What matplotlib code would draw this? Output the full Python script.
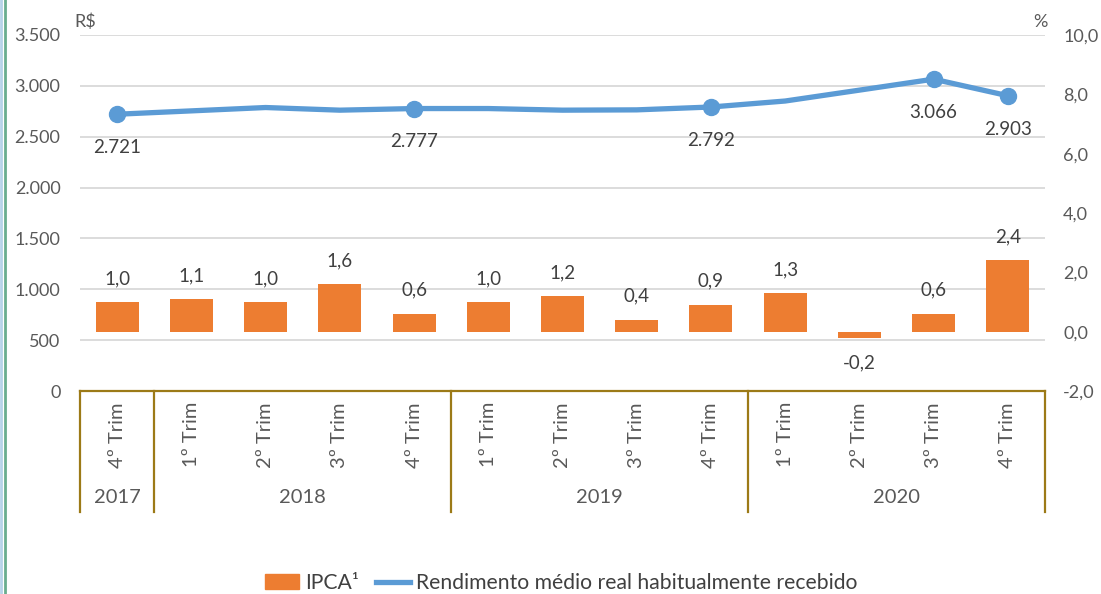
import numpy as np
import matplotlib.pyplot as plt
from matplotlib.lines import Line2D
from matplotlib.patches import Patch

plt.rcParams['font.family'] = ['Lato', 'DejaVu Sans']

trim_labels = ['4º Trim', '1º Trim', '2º Trim', '3º Trim', '4º Trim',
               '1º Trim', '2º Trim', '3º Trim', '4º Trim',
               '1º Trim', '2º Trim', '3º Trim', '4º Trim']
years = ['2017', '2018', '2019', '2020']
year_spans = [(0, 0), (1, 4), (5, 8), (9, 12)]

ipca = [1.0, 1.1, 1.0, 1.6, 0.6, 1.0, 1.2, 0.4, 0.9, 1.3, -0.2, 0.6, 2.4]
rendimento = [2721, 2754, 2787, 2761, 2777, 2777, 2761, 2764, 2792, 2851, 2958, 3066, 2903]
labeled_points = [0, 4, 8, 11, 12]

blue = '#5B9BD5'
orange = '#ED7D31'
txt = '#404040'
tick_col = '#595959'
axis_col = '#9C7A17'

fig = plt.figure(figsize=(11.01, 5.94), dpi=100)
ax = fig.add_axes([80/1101, 1-391/594, (1045-80)/1101, 356/594])
ax2 = ax.twinx()

x = np.arange(len(ipca))

# left axis: rendimento
ax.set_ylim(0, 3500)
ax.set_yticks(np.arange(0, 3501, 500))
ax.set_yticklabels([f'{v:,}'.replace(',', '.') for v in range(0, 3501, 500)])
for v in range(500, 3501, 500):
    ax.axhline(v, color='#D9D9D9', lw=1.3, zorder=0)
ax.plot(x, rendimento, color=blue, lw=3.8, zorder=3, solid_capstyle='round')
ax.plot([x[i] for i in labeled_points], [rendimento[i] for i in labeled_points],
        'o', color=blue, ms=11.5, zorder=4)
for i in labeled_points:
    ax.annotate(f'{rendimento[i]:,}'.replace(',', '.'), (x[i], rendimento[i]),
                xytext=(0, -24), textcoords='offset points', ha='center', va='center',
                fontsize=13.5, color=txt)

# right axis: IPCA bars
ax2.set_ylim(-2, 10)
ax2.set_yticks(np.arange(-2, 10.1, 2))
ax2.set_yticklabels([f'{v:.1f}'.replace('.', ',') for v in np.arange(-2, 10.1, 2)])
ax2.bar(x, ipca, width=0.58, color=orange, zorder=2)
for i, v in enumerate(ipca):
    off = 17 if v >= 0 else -18
    ax2.annotate(f'{v:.1f}'.replace('.', ','), (x[i], v), xytext=(0, off),
                 textcoords='offset points', ha='center', va='center',
                 fontsize=13.5, color=txt)

for a in (ax, ax2):
    for s in a.spines.values():
        s.set_visible(False)
    a.tick_params(axis='y', length=0, labelsize=13, labelcolor=tick_col)
ax.tick_params(axis='y', pad=14)
ax2.tick_params(axis='y', pad=13)

ax.set_xlim(-0.5, len(ipca) - 0.5)
ax.set_xticks(x)
ax.set_xticklabels(trim_labels, rotation=90, va='top', ha='center')
ax.tick_params(axis='x', length=0, pad=8, labelsize=14.5, labelcolor=tick_col)
ax2.tick_params(axis='x', length=0)

# category axis lines
ax.axhline(0, color=axis_col, lw=1.6, zorder=5, clip_on=False)
for b in [-0.5, 0.5, 4.5, 8.5, 12.5]:
    ax.plot([b, b], [0, -0.34], transform=ax.get_xaxis_transform(),
            color=axis_col, lw=1.6, clip_on=False)
for yr, (a0, a1) in zip(years, year_spans):
    ax.text((a0 + a1) / 2, -0.298, yr, transform=ax.get_xaxis_transform(),
            ha='center', va='center', fontsize=14.5, color=tick_col)

fig.text(85/1101, 1-22/594, 'R$', ha='center', va='center', fontsize=13, color=tick_col)
fig.text(1040/1101, 1-22/594, '%', ha='center', va='center', fontsize=13, color=tick_col)

# frame edge on the left
fig.add_artist(Line2D([5/1101, 5/1101], [0, 1], color='#6AAE8F', lw=2))
fig.add_artist(Line2D([1/1101, 1/1101], [0, 1], color='#B7D3E9', lw=2))

handles = [Patch(color=orange), Line2D([0], [0], color=blue, lw=3.8)]
fig.legend(handles, ['IPCA¹', 'Rendimento médio real habitualmente recebido'],
           loc='center', bbox_to_anchor=(0.51, 11/594), ncol=2, frameon=False,
           fontsize=15.2, labelcolor=txt, handlelength=1.6, columnspacing=0.8,
           handletextpad=0.3, borderpad=0)

fig.savefig('out.png', dpi=100)
